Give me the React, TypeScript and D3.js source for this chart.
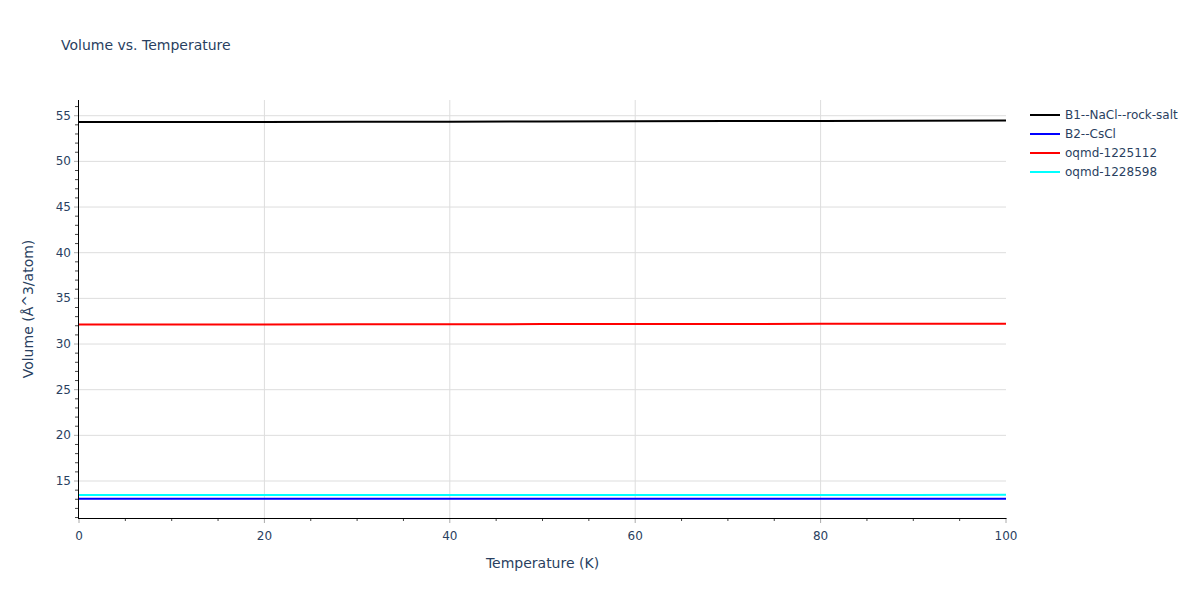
import React, { useEffect, useRef } from 'react'
import * as d3 from 'd3'

const temperatures = [0, 10, 20, 30, 40, 50, 60, 70, 80, 90, 100]
const seriesNames = ['B1--NaCl--rock-salt', 'B2--CsCl', 'oqmd-1225112', 'oqmd-1228598']
const seriesColors = ['#000000', '#0000ff', '#ff0000', '#00ffff']
const b1Volume = [54.31, 54.31, 54.32, 54.33, 54.35, 54.37, 54.39, 54.41, 54.43, 54.45, 54.47]
const b2Volume = [13.05, 13.05, 13.05, 13.05, 13.05, 13.06, 13.06, 13.06, 13.06, 13.07, 13.07]
const oqmd1225112Volume = [32.15, 32.15, 32.15, 32.16, 32.17, 32.18, 32.19, 32.2, 32.21, 32.22, 32.23]
const oqmd1228598Volume = [13.46, 13.46, 13.46, 13.46, 13.47, 13.47, 13.47, 13.48, 13.48, 13.48, 13.49]
const xTicks = [0, 20, 40, 60, 80, 100]
const yTicks = [15, 20, 25, 30, 35, 40, 45, 50, 55]

export default function App() {
  const ref = useRef<HTMLDivElement | null>(null)

  useEffect(() => {
    const container = d3.select(ref.current!)
    container.selectAll('*').remove()
    const width = 1200
    const height = 600
    const margin = { top: 100, right: 194, bottom: 82, left: 79 }
    const font = '"DejaVu Sans", verdana, arial, sans-serif'
    const textColor = '#2a3f5f'

    const svg = container.append('svg')
      .attr('width', width).attr('height', height)
      .style('display', 'block')
      .style('font-family', font)

    const x = d3.scaleLinear().domain([0, 100]).range([margin.left, width - margin.right])
    const y = d3.scaleLinear().domain([10.95, 56.72]).range([height - margin.bottom, margin.top])

    // grid
    const grid = svg.append('g')
    grid.selectAll('line.gx').data(xTicks.slice(1, -1)).enter().append('line')
      .attr('x1', d => x(d)).attr('x2', d => x(d))
      .attr('y1', margin.top).attr('y2', height - margin.bottom)
      .attr('stroke', '#dddddd').attr('stroke-width', 1)
    grid.selectAll('line.gy').data(yTicks).enter().append('line')
      .attr('x1', margin.left).attr('x2', width - margin.right)
      .attr('y1', d => y(d)).attr('y2', d => y(d))
      .attr('stroke', '#dddddd').attr('stroke-width', 1)

    // lines
    const allSeries = [b1Volume, b2Volume, oqmd1225112Volume, oqmd1228598Volume]
    const line = d3.line<number>().x((_, i) => x(temperatures[i])).y(d => y(d))
    allSeries.forEach((vals, i) => {
      svg.append('path').datum(vals)
        .attr('d', line)
        .attr('fill', 'none')
        .attr('stroke', seriesColors[i])
        .attr('stroke-width', 2)
    })

    // x axis
    const xb = height - margin.bottom
    const xMinor = d3.range(0, 101, 5).filter(v => v % 20 !== 0)
    svg.append('g').selectAll('line').data(xMinor).enter().append('line')
      .attr('x1', d => x(d)).attr('x2', d => x(d))
      .attr('y1', xb).attr('y2', xb + 3)
      .attr('stroke', '#444').attr('stroke-width', 1)
    svg.append('g').selectAll('line').data(xTicks).enter().append('line')
      .attr('x1', d => x(d)).attr('x2', d => x(d))
      .attr('y1', xb).attr('y2', xb + 5)
      .attr('stroke', '#aaaaaa').attr('stroke-width', 1)
    svg.append('g').selectAll('text').data(xTicks).enter().append('text')
      .attr('x', d => x(d)).attr('y', xb + 22)
      .attr('text-anchor', 'middle')
      .attr('font-size', 12).attr('fill', textColor)
      .text(d => d)
    svg.append('line')
      .attr('x1', margin.left - 1).attr('x2', width - margin.right + 0.5)
      .attr('y1', xb + 0.5).attr('y2', xb + 0.5)
      .attr('stroke', '#000').attr('stroke-width', 1)

    // y axis
    const yMinor = d3.range(11, 57, 1).filter(v => v % 5 !== 0)
    svg.append('g').selectAll('line').data(yMinor).enter().append('line')
      .attr('x1', margin.left - 4).attr('x2', margin.left)
      .attr('y1', d => y(d)).attr('y2', d => y(d))
      .attr('stroke', '#444').attr('stroke-width', 1)
    svg.append('g').selectAll('line').data(yTicks).enter().append('line')
      .attr('x1', margin.left - 5).attr('x2', margin.left)
      .attr('y1', d => y(d)).attr('y2', d => y(d))
      .attr('stroke', '#aaaaaa').attr('stroke-width', 1)
    svg.append('g').selectAll('text').data(yTicks).enter().append('text')
      .attr('x', margin.left - 8).attr('y', d => y(d) + 4)
      .attr('text-anchor', 'end')
      .attr('font-size', 12).attr('fill', textColor)
      .text(d => d)
    svg.append('line')
      .attr('x1', margin.left - 0.5).attr('x2', margin.left - 0.5)
      .attr('y1', margin.top).attr('y2', xb + 1)
      .attr('stroke', '#000').attr('stroke-width', 1)

    // titles
    svg.append('text').attr('x', 61).attr('y', 50)
      .attr('font-size', 14).attr('fill', textColor)
      .text('Volume vs. Temperature')
    svg.append('text').attr('x', x(50)).attr('y', 568)
      .attr('text-anchor', 'middle')
      .attr('font-size', 14).attr('fill', textColor)
      .text('Temperature (K)')
    svg.append('text')
      .attr('transform', `translate(33,${(margin.top + xb) / 2}) rotate(-90)`)
      .attr('text-anchor', 'middle')
      .attr('font-size', 14).attr('fill', textColor)
      .text('Volume (Å^3/atom)')

    // legend
    const legend = svg.append('g').attr('transform', 'translate(1030,115)')
    seriesNames.forEach((name, i) => {
      const row = legend.append('g').attr('transform', `translate(0,${i * 19})`)
      row.append('line').attr('x1', 0).attr('x2', 30).attr('y1', 0).attr('y2', 0)
        .attr('stroke', seriesColors[i]).attr('stroke-width', 2)
      row.append('text').attr('x', 35).attr('y', 4)
        .attr('font-size', 12).attr('fill', textColor)
        .text(name)
    })
  }, [])

  return <div ref={ref} style={{ margin: -8 }} />
}
